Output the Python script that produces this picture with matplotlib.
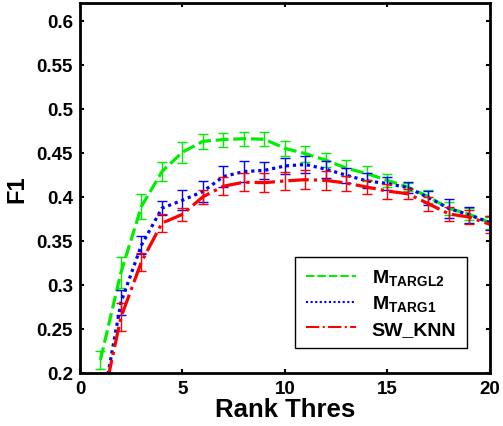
import numpy as np
import matplotlib
matplotlib.use('Agg')
import matplotlib.pyplot as plt

plt.rcParams['font.family'] = ['Liberation Sans', 'DejaVu Sans']
plt.rcParams['font.weight'] = 'bold'
plt.rcParams['mathtext.fontset'] = 'custom'
plt.rcParams['mathtext.rm'] = 'Liberation Sans:bold'
plt.rcParams['mathtext.bf'] = 'Liberation Sans:bold'

rank = np.arange(1, 21)

# M_TARGL2 (green, dashed)
f1_targl2 = [0.2146, 0.314, 0.389, 0.4286, 0.4507, 0.463, 0.465, 0.466, 0.4654, 0.455,
             0.449, 0.4416, 0.4324, 0.4263, 0.4186, 0.411, 0.400, 0.3867, 0.380, 0.3705]
err_targl2 = [0.0105, 0.018, 0.0144, 0.0105, 0.012, 0.0086, 0.008, 0.008, 0.008, 0.0088,
              0.009, 0.0077, 0.0092, 0.0086, 0.0073, 0.005, 0.0073, 0.0077, 0.007, 0.007]

# M_TARG1 (blue, dotted)
f1_targ1 = [0.151, 0.280, 0.345, 0.387, 0.396, 0.406, 0.423, 0.4286, 0.430, 0.435,
            0.4367, 0.4313, 0.4244, 0.418, 0.415, 0.4103, 0.399, 0.3867, 0.3793, 0.3705]
err_targ1 = [0.01, 0.0144, 0.0105, 0.0077, 0.0115, 0.0115, 0.0115, 0.0115, 0.0096, 0.0096,
             0.0096, 0.0096, 0.0086, 0.0086, 0.0077, 0.006, 0.008, 0.011, 0.0086, 0.008]

# SW_KNN (red, dash-dot)
f1_swknn = [0.154, 0.263, 0.326, 0.370, 0.380, 0.400, 0.412, 0.4165, 0.416, 0.418,
            0.4194, 0.4186, 0.4155, 0.411, 0.4064, 0.4034, 0.392, 0.3805, 0.3768, 0.3686]
err_swknn = [0.01, 0.016, 0.0105, 0.0105, 0.0077, 0.0077, 0.0105, 0.0105, 0.0105, 0.0105,
             0.0105, 0.0105, 0.0086, 0.0077, 0.0086, 0.0057, 0.0077, 0.008, 0.0077, 0.0096]

fig = plt.figure(figsize=(5.03, 4.27), dpi=100)
ax = fig.add_axes([0.159, 0.125, 0.815, 0.865])

series = [
    (f1_targl2, err_targl2, '#00ee00', (0, (4, 1.5)), r'$\mathrm{M}_{\mathrm{TARGL2}}$'),
    (f1_targ1, err_targ1, '#0000ff', (0, (1, 1.2)), r'$\mathrm{M}_{\mathrm{TARG1}}$'),
    (f1_swknn, err_swknn, '#ff0000', '-.', 'SW_KNN'),
]
for vals, errs, col, ls, lab in series:
    ax.plot(rank, vals, color=col, linestyle=ls, linewidth=2.3, label=lab)
    ax.errorbar(rank, vals, yerr=errs, fmt='none', ecolor=col, elinewidth=1,
                capsize=3.5, capthick=1)

ax.set_xlim(0, 20)
ax.set_ylim(0.2, 0.62)
ax.set_xticks([0, 5, 10, 15, 20])
yt = [0.2, 0.25, 0.3, 0.35, 0.4, 0.45, 0.5, 0.55, 0.6]
ax.set_yticks(yt)
ax.set_yticklabels(['0.2', '0.25', '0.3', '0.35', '0.4', '0.45', '0.5', '0.55', '0.6'])
ax.tick_params(direction='in', length=3, width=1.5, labelsize=13.5, top=True, right=True)
ax.tick_params(axis='x', pad=5)
ax.tick_params(axis='y', pad=5)
for lbl in ax.get_xticklabels() + ax.get_yticklabels():
    lbl.set_fontweight('bold')
for sp in ax.spines.values():
    sp.set_linewidth(2)

ax.set_xlabel('Rank Thres', fontsize=18.5, fontweight='bold', labelpad=0)
ax.set_ylabel('F1', fontsize=17, fontweight='bold', labelpad=6)

leg = ax.legend(loc='lower right', bbox_to_anchor=(0.968, 0.039), fancybox=False,
                framealpha=1, edgecolor='black', fontsize=14, handlelength=2.6,
                borderpad=0.55, labelspacing=0.3)
leg.get_frame().set_linewidth(1)
for t in leg.get_texts():
    t.set_fontweight('bold')
for h in leg.get_lines():
    h.set_linewidth(1.5)

fig.savefig('out.png', dpi=100)
